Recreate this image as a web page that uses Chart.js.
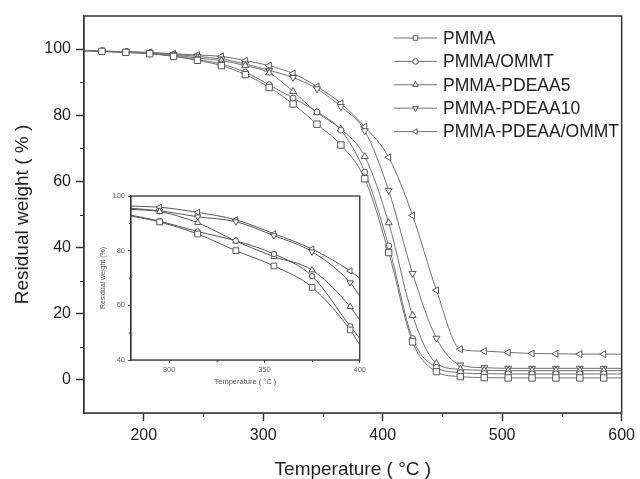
<!DOCTYPE html>
<html>
<head>
<meta charset="utf-8">
<script src="https://cdn.jsdelivr.net/npm/chart.js@4/dist/chart.umd.min.js"></script>
<style>
  html, body { margin: 0; padding: 0; background: #fff; }
  #wrap { position: relative; width: 640px; height: 479px; }
  #mainChart { position: absolute; left: 0; top: 0; }
  #insetChart { position: absolute; left: 96px; top: 186px; }
</style>
</head>
<body>
<div id="wrap">
  <canvas id="mainChart" width="640" height="479"></canvas>
  <canvas id="insetChart" width="272" height="204"></canvas>
</div>
<script>
// series names
const seriesNames = ['PMMA', 'PMMA/OMMT', 'PMMA-PDEAA5', 'PMMA-PDEAA10', 'PMMA-PDEAA/OMMT'];

// main plot, temperature (C) and residual weight (%)
const mainTemps = [150, 165, 185, 205, 225, 245, 265, 285, 305, 325, 345, 365, 385, 405, 425, 445, 465, 485, 505, 525, 545, 565, 585, 600];
const pmma      = [99.5, 99.3, 99.0, 98.6, 97.8, 96.6, 95.0, 92.3, 88.4, 83.4, 77.3, 71.0, 60.8, 38.5, 11.5, 2.5, 1.0, 0.7, 0.6, 0.6, 0.6, 0.6, 0.6, 0.6];
const pmmaOmmt  = [99.5, 99.3, 99.0, 98.6, 97.9, 96.8, 95.5, 93.0, 89.2, 85.2, 81.0, 75.5, 62.8, 40.5, 12.5, 3.8, 2.2, 1.9, 1.8, 1.8, 1.8, 1.8, 1.8, 1.8];
const pdeaa5    = [99.5, 99.4, 99.1, 98.8, 98.2, 97.3, 96.5, 95.0, 92.8, 87.2, 80.8, 75.8, 67.5, 47.5, 19.5, 5.0, 3.2, 2.9, 2.8, 2.8, 2.8, 2.8, 2.8, 2.8];
const pdeaa10   = [99.6, 99.4, 99.2, 98.9, 98.4, 97.8, 97.0, 95.5, 93.6, 91.4, 88.0, 82.6, 75.3, 57.3, 32.2, 12.6, 4.5, 3.7, 3.5, 3.5, 3.5, 3.5, 3.5, 3.5];
const pdeaaOmmt = [99.6, 99.4, 99.2, 99.0, 98.6, 98.2, 97.8, 96.5, 95.0, 92.6, 88.7, 83.6, 76.5, 67.3, 49.7, 27.1, 9.3, 8.7, 8.3, 8.0, 7.9, 7.8, 7.8, 7.8];

// inset (zoom on 280-400 C)
const insetTemps     = [280, 295, 315, 335, 355, 375, 395, 400];
const insetPmma      = [92.7, 90.5, 86.1, 80.0, 74.4, 66.6, 51.0, 45.5];
const insetPmmaOmmt  = [93.0, 90.8, 87.0, 83.6, 78.8, 70.7, 52.3, 48.0];
const insetPdeaa5    = [95.1, 94.3, 90.2, 83.5, 77.8, 72.9, 59.5, 54.6];
const insetPdeaa10   = [95.5, 94.6, 92.4, 90.6, 85.5, 79.6, 68.3, 63.4];
const insetPdeaaOmmt = [96.3, 95.9, 94.0, 91.3, 86.2, 80.6, 72.6, 69.9];

// ticks
const xMajor = [200, 300, 400, 500, 600];
const xMinor = [250, 350, 450, 550];
const yMajor = [0, 20, 40, 60, 80, 100];
const yMinor = [10, 30, 50, 70, 90];
const insetXMajor = [300, 350, 400];
const insetXMinor = [325, 375];
const insetYMajor = [40, 60, 80, 100];
const insetYMinor = [50, 70, 90];

const markers = [
    { style: 'rect', rotation: 0, size: 0.5 },
    { style: 'circle', rotation: 0, size: -1 },
    { style: 'triangle', rotation: 0, size: 0 },
    { style: 'triangle', rotation: 180, size: 0 },
    { style: 'triangle', rotation: 270, size: 0 }
];

Chart.defaults.font.family = '"Liberation Sans", Arial, sans-serif';

function makeSets(temps, lists, radius, lineColor) {
    return lists.map((vals, i) => ({
        label: seriesNames[i],
        data: temps.map((t, j) => ({ x: t, y: vals[j] })),
        borderColor: lineColor,
        borderWidth: 1,
        backgroundColor: '#fff',
        pointBorderColor: '#555',
        pointBackgroundColor: '#fff',
        pointBorderWidth: 1,
        pointStyle: markers[i].style,
        pointRotation: markers[i].rotation,
        pointRadius: temps.map((t, j) => (j === 0 || j === temps.length - 1) ? 0 : radius + markers[i].size * radius / 4),
        pointHoverRadius: 0,
        cubicInterpolationMode: 'monotone',
        fill: false
    }));
}

// frame + minor ticks
const framePlugin = {
    id: 'frame',
    beforeDatasetsDraw(chart) {
        const a = chart.chartArea;
        chart.ctx.save();
        chart.ctx.fillStyle = '#fff';
        chart.ctx.fillRect(a.left, a.top, a.right - a.left, a.bottom - a.top);
        chart.ctx.restore();
    },
    afterDraw(chart, args, opts) {
        const { ctx, chartArea: a, scales } = chart;
        ctx.save();
        ctx.strokeStyle = '#333';
        ctx.lineWidth = opts.width;
        ctx.strokeRect(a.left, a.top, a.right - a.left, a.bottom - a.top);
        ctx.lineWidth = 1;
        ctx.beginPath();
        opts.xMinor.forEach(v => {
            const px = Math.round(scales.x.getPixelForValue(v)) + 0.5;
            ctx.moveTo(px, a.bottom);
            ctx.lineTo(px, a.bottom + opts.len);
        });
        opts.yMinor.forEach(v => {
            const py = Math.round(scales.y.getPixelForValue(v)) + 0.5;
            ctx.moveTo(a.left, py);
            ctx.lineTo(a.left - opts.len, py);
        });
        ctx.stroke();
        ctx.restore();
    }
};

// legend with line + marker
const lineLegend = {
    id: 'lineLegend',
    afterDraw(chart, args, opts) {
        const ctx = chart.ctx;
        ctx.save();
        chart.data.datasets.forEach((ds, i) => {
            const y = opts.top + i * opts.step;
            ctx.strokeStyle = ds.borderColor;
            ctx.lineWidth = 1;
            ctx.beginPath();
            ctx.moveTo(opts.x0, y);
            ctx.lineTo(opts.x1, y);
            ctx.stroke();
            ctx.strokeStyle = '#555';
            ctx.fillStyle = '#fff';
            Chart.helpers.drawPoint(ctx, {
                pointStyle: ds.pointStyle,
                rotation: ds.pointRotation,
                radius: ds.pointStyle === 'circle' ? 2.8 : 3.2,
                borderWidth: 1
            }, (opts.x0 + opts.x1) / 2, y);
            ctx.fillStyle = '#222';
            ctx.font = opts.font;
            ctx.textBaseline = 'middle';
            ctx.fillText(ds.label, opts.textX, y + 1);
        });
        ctx.restore();
    }
};

new Chart(document.getElementById('mainChart'), {
    type: 'line',
    data: {
        datasets: makeSets(mainTemps, [pmma, pmmaOmmt, pdeaa5, pdeaa10, pdeaaOmmt], 4, '#707070')
    },
    options: {
        responsive: false,
        animation: false,
        events: [],
        layout: { padding: { left: 0, right: 15, top: 16, bottom: 0 } },
        plugins: {
            legend: { display: false },
            tooltip: { enabled: false },
            frame: { width: 1.5, xMinor: xMinor, yMinor: yMinor, len: 4 },
            lineLegend: { x0: 394, x1: 437, textX: 443, top: 38, step: 23.4, font: '17.5px "Liberation Sans", Arial, sans-serif' }
        },
        scales: {
            x: {
                type: 'linear',
                min: 150,
                max: 600,
                afterBuildTicks: s => { s.ticks = xMajor.map(v => ({ value: v })); },
                afterFit: s => { s.height = 66; },
                grid: { drawOnChartArea: false, tickLength: 8, tickColor: '#333', tickWidth: 1.5 },
                border: { color: '#333', width: 1.5 },
                ticks: { color: '#222', font: { size: 16 }, padding: 5, maxRotation: 0, autoSkip: false },
                title: { display: true, text: 'Temperature ( °C )', color: '#222', font: { size: 19, lineHeight: 1 }, padding: { top: 0, bottom: 0 } }
            },
            y: {
                type: 'linear',
                min: -10,
                max: 110,
                afterBuildTicks: s => { s.ticks = yMajor.map(v => ({ value: v })); },
                afterFit: s => { s.width = 84; },
                grid: { drawOnChartArea: false, tickLength: 8, tickColor: '#333', tickWidth: 1.5 },
                border: { color: '#333', width: 1.5 },
                ticks: { color: '#222', font: { size: 16 }, padding: 5, autoSkip: false },
                title: { display: true, text: 'Residual weight ( % )', color: '#222', font: { size: 19, lineHeight: 1 }, padding: { top: 13, bottom: 0 } }
            }
        }
    },
    plugins: [framePlugin, lineLegend]
});

new Chart(document.getElementById('insetChart'), {
    type: 'line',
    data: {
        datasets: makeSets(insetTemps, [insetPmma, insetPmmaOmmt, insetPdeaa5, insetPdeaa10, insetPdeaaOmmt], 3.6, '#555')
    },
    options: {
        responsive: false,
        animation: false,
        events: [],
        layout: { padding: { left: 0, right: 8, top: 10, bottom: 0 } },
        plugins: {
            legend: { display: false },
            tooltip: { enabled: false },
            frame: { width: 1.3, xMinor: insetXMinor, yMinor: insetYMinor, len: 2 }
        },
        scales: {
            x: {
                type: 'linear',
                min: 280,
                max: 400,
                afterBuildTicks: s => { s.ticks = insetXMajor.map(v => ({ value: v })); },
                afterFit: s => { s.height = 30; },
                grid: { drawOnChartArea: false, tickLength: 3, tickColor: '#444', tickWidth: 1 },
                border: { color: '#333', width: 1.3 },
                ticks: { color: '#666', font: { size: 7.5 }, padding: 2, maxRotation: 0, autoSkip: false },
                title: { display: true, text: 'Temperature ( °C )', color: '#555', font: { size: 7.5, lineHeight: 1 }, padding: { top: 0, bottom: 4 } }
            },
            y: {
                type: 'linear',
                min: 40,
                max: 100,
                afterBuildTicks: s => { s.ticks = insetYMajor.map(v => ({ value: v })); },
                afterFit: s => { s.width = 35; },
                grid: { drawOnChartArea: false, tickLength: 3, tickColor: '#444', tickWidth: 1 },
                border: { color: '#333', width: 1.3 },
                ticks: { color: '#666', font: { size: 7.5 }, padding: 3, autoSkip: false },
                title: { display: true, text: 'Residual weight (%)', color: '#555', font: { size: 7, lineHeight: 1 }, padding: { top: 3.5, bottom: 0 } }
            }
        }
    },
    plugins: [framePlugin]
});
</script>
</body>
</html>
